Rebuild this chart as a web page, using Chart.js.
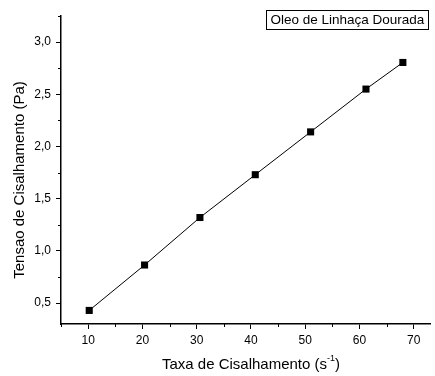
<!DOCTYPE html>
<html>
<head>
<meta charset="utf-8">
<script src="https://cdn.jsdelivr.net/npm/chart.js@4"></script>
<style>
  html, body { margin: 0; padding: 0; background: #fff; }
  #wrap { width: 435px; height: 376px; }
</style>
</head>
<body>
<div id="wrap"><canvas id="c" width="435" height="376"></canvas></div>
<script>
(function () {
  "use strict";

  // data
  const shearRate = [10.2, 20.4, 30.6, 40.8, 51, 61.2, 68];
  const shearStress = [0.43, 0.865, 1.32, 1.73, 2.14, 2.55, 2.805];
  const seriesLabel = "Oleo de Linhaça Dourada";
  const xTicks = [10, 20, 30, 40, 50, 60, 70];
  const xMinor = [5, 15, 25, 35, 45, 55, 65];
  const yTicks = [0.5, 1.0, 1.5, 2.0, 2.5, 3.0];
  const yMinor = [0.75, 1.25, 1.75, 2.25, 2.75, 3.25];

  const FONT = "'Liberation Sans', Arial, sans-serif";
  Chart.defaults.font.family = FONT;
  Chart.defaults.color = "#000";

  /* ---------- minor ticks, titles, legend box ---------- */
  const decorations = {
    id: "decorations",
    afterDraw(chart) {
      const ctx = chart.ctx;
      const x = chart.scales.x, y = chart.scales.y;
      const area = chart.chartArea;
      ctx.save();
      ctx.strokeStyle = "#000";
      ctx.lineWidth = 1;
      ctx.beginPath();
      xMinor.forEach(v => {
        const px = Math.round(x.getPixelForValue(v)) + 0.5;
        ctx.moveTo(px, area.bottom); ctx.lineTo(px, area.bottom + 3);
      });
      yMinor.forEach(v => {
        const py = Math.round(y.getPixelForValue(v)) + 0.5;
        ctx.moveTo(area.left, py); ctx.lineTo(area.left - 3, py);
      });
      ctx.stroke();

      // x title with superscript
      ctx.fillStyle = "#000";
      ctx.textBaseline = "middle";
      const main = "Taxa de Cisalhamento (s";
      const sup = "-1";
      ctx.font = "9px " + FONT;
      const supW = ctx.measureText(sup).width;
      ctx.font = "15px " + FONT;
      const mainW = ctx.measureText(main).width;
      const closeW = ctx.measureText(")").width;
      const total = mainW + supW + closeW;
      const tx = 251 - total / 2;
      const ty = 365;
      ctx.textAlign = "left";
      ctx.fillText(main, tx, ty);
      ctx.font = "9px " + FONT;
      ctx.fillText(sup, tx + mainW, ty - 6);
      ctx.font = "15px " + FONT;
      ctx.fillText(")", tx + mainW + supW, ty);

      // y title
      ctx.save();
      ctx.translate(20, 180);
      ctx.rotate(-Math.PI / 2);
      ctx.textAlign = "center";
      ctx.fillText("Tensao de Cisalhamento (Pa)", 0, 0);
      ctx.restore();

      // legend box
      ctx.font = "13.5px " + FONT;
      ctx.textAlign = "left";
      const lw = ctx.measureText(seriesLabel).width;
      const bx = 266.5, by = 10.5, bw = Math.round(lw + 8), bh = 19;
      ctx.strokeRect(bx, by, bw, bh);
      ctx.fillText(seriesLabel, bx + 4, by + bh / 2 + 0.5);
      ctx.restore();
    }
  };

  new Chart(document.getElementById("c"), {
    type: "line",
    data: {
      datasets: [{
        label: seriesLabel,
        data: shearRate.map((v, i) => ({ x: v, y: shearStress[i] })),
        borderColor: "#000",
        borderWidth: 1,
        backgroundColor: "#000",
        pointStyle: "rect",
        pointRadius: 5,
        pointHoverRadius: 5,
        pointBorderWidth: 0,
        tension: 0
      }]
    },
    options: {
      responsive: false,
      animation: false,
      events: [],
      layout: { padding: { top: 16, right: 0, left: 0, bottom: 0 } },
      plugins: { legend: { display: false }, tooltip: { enabled: false } },
      scales: {
        x: {
          type: "linear",
          min: 5, max: 73,
          afterBuildTicks: s => { s.ticks = xTicks.map(v => ({ value: v })); },
          afterFit: s => { s.height = 52; s.paddingLeft = 0; s.paddingRight = 0; },
          border: { color: "#000", width: 1.5 },
          grid: { drawOnChartArea: false, color: "#000", tickLength: 5, tickWidth: 1 },
          ticks: { font: { size: 12 }, color: "#000", padding: 4, maxRotation: 0 }
        },
        y: {
          type: "linear",
          min: 0.3, max: 3.25,
          afterBuildTicks: s => { s.ticks = yTicks.map(v => ({ value: v })); },
          afterFit: s => { s.width = 61; s.paddingTop = 0; s.paddingBottom = 0; },
          border: { color: "#000", width: 1.5 },
          grid: { drawOnChartArea: false, color: "#000", tickLength: 5, tickWidth: 1 },
          ticks: {
            font: { size: 12 }, color: "#000", padding: 5,
            callback: v => v.toFixed(1).replace(".", ",")
          }
        }
      }
    },
    plugins: [decorations]
  });
})();
</script>
</body>
</html>
